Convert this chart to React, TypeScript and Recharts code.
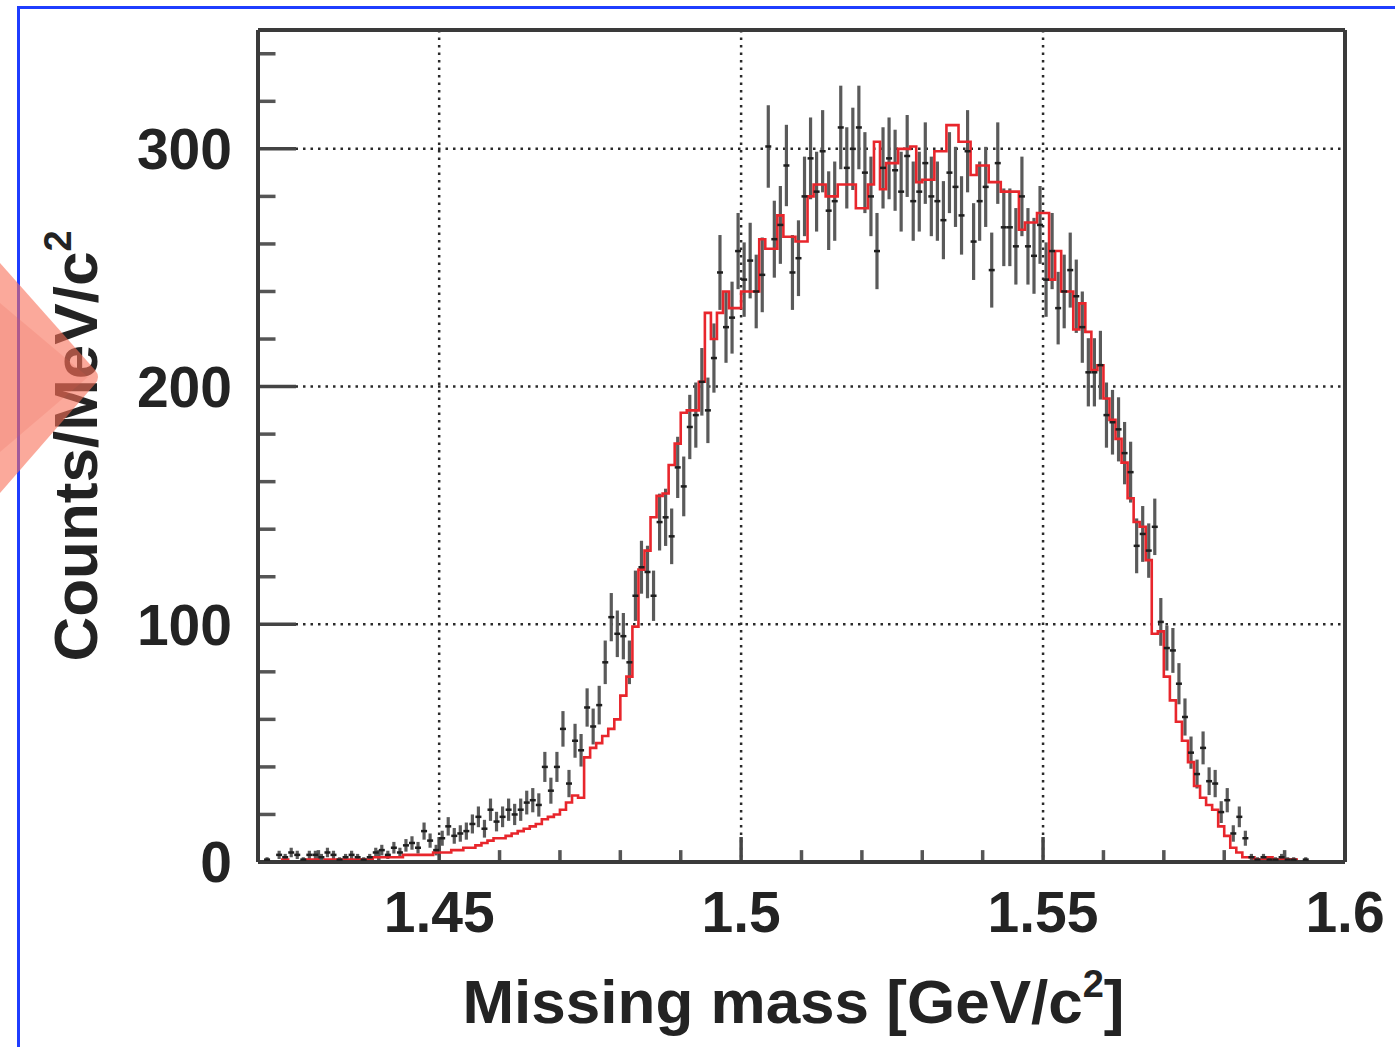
import React from 'react';
import {
  ComposedChart,
  Line,
  Scatter,
  ErrorBar,
  XAxis,
  YAxis,
  CartesianGrid,
  ReferenceLine,
  Label,
} from 'recharts';

// ---- axis ranges / binning ----
const X_MIN = 1.42;
const X_MAX = 1.6;
const BIN_WIDTH = 0.001; // 1 MeV bins
const Y_MAX = 350;

// ---- tick values ----
const xMajorTicks = [1.45, 1.5, 1.55, 1.6];
const xMinorTicks = [1.43, 1.44, 1.46, 1.47, 1.48, 1.49, 1.51, 1.52, 1.53, 1.54, 1.56, 1.57, 1.58, 1.59];
const yMajorTicks = [0, 100, 200, 300];
const yMinorTicks = [20, 40, 60, 80, 120, 140, 160, 180, 220, 240, 260, 280, 320, 340];

// ---- measured data (counts per 1 MeV bin, from 1.420 GeV) ----
const dataCounts = [
  0, 1, 0, 3, 2, 4, 3, 1, 3, 3,
  2, 4, 3, 1, 2, 3, 2, 1, 2, 4,
  5, 3, 6, 4, 7, 8, 6, 13, 9, 5,
  10, 15, 11, 12, 13, 16, 19, 14, 22, 17,
  19, 22, 20, 22, 25, 26, 24, 40, 30, 40,
  56, 33, 51, 47, 65, 57, 66, 84, 103, 96,
  95, 84, 112, 124, 122, 112, 143, 145, 137, 166,
  158, 183, 188, 202, 190, 212, 248, 225, 229, 257,
  245, 253, 240, 247, 301, 262, 268, 293, 248, 254,
  280, 296, 282, 299, 274, 278, 309, 292, 300, 309,
  290, 280, 257, 292, 296, 291, 282, 297, 278, 282,
  294, 280, 278, 270, 290, 284, 272, 299, 261, 278,
  284, 249, 294, 267, 267, 259, 280, 259, 255, 268,
  245, 257, 233, 240, 249, 238, 225, 206, 206, 209,
  188, 185, 182, 172, 164, 133, 138, 131, 141, 101,
  90, 89, 75, 61, 46, 37, 48, 34, 33, 21,
  26, 12, 19, 10, 2, 1, 2, 1, 1, 2,
  1, 1, 0, 1, 0, 0, 0, 0, 0, 0,
];

// ---- simulation histogram (red) ----
const mcCounts = [
  0, 0, 0, 0, 1, 0, 0, 0, 1, 1,
  0, 1, 1, 1, 1, 1, 1, 1, 1, 2,
  2, 2, 2, 2, 3, 3, 3, 3, 3, 4,
  4, 4, 5, 5, 6, 6, 7, 8, 9, 10,
  10, 11, 12, 13, 14, 15, 16, 18, 19, 20,
  22, 25, 28, 27, 44, 48, 50, 53, 56, 60,
  70, 78, 99, 123, 131, 145, 154, 155, 167, 176,
  189, 190, 190, 202, 231, 220, 231, 240, 233, 233,
  240, 240, 240, 262, 258, 258, 272, 263, 263, 261,
  261, 280, 285, 285, 280, 280, 285, 285, 285, 275,
  275, 285, 303, 283, 294, 294, 300, 300, 301, 286,
  287, 287, 299, 299, 310, 310, 303, 303, 289, 293,
  293, 286, 286, 282, 282, 282, 266, 269, 269, 273,
  273, 245, 257, 240, 240, 224, 235, 223, 207, 209,
  195, 186, 178, 168, 153, 143, 141, 127, 96, 97,
  78, 68, 59, 51, 42, 32, 27, 24, 22, 15,
  11, 6, 4, 2, 2, 1, 1, 2, 1, 1,
  1, 1, 0, 0, 0, 0, 0, 0, 0, 0,
];

// ---- tables built from the arrays above ----
const dataPoints = dataCounts
  .map((c, i) => ({ x: X_MIN + (i + 0.5) * BIN_WIDTH, y: c, err: Math.sqrt(c) }))
  .filter((p) => p.y > 0);

const mcSteps = mcCounts.map((c, i) => ({ x: X_MIN + i * BIN_WIDTH, y: c }));
mcSteps.push({ x: X_MAX, y: mcCounts[mcCounts.length - 1] });

const FONT = "'Liberation Sans', Arial, Helvetica, sans-serif";
const TEXT = '#232323';
const FRAME = '#3a3a3a';

const tickStyle = { fill: TEXT, fontSize: 57, fontWeight: 700, fontFamily: FONT };

const XTitle = (props: any) => {
  const vb = props.viewBox || {};
  const cx = vb.x + vb.width / 2 - 8;
  const base = vb.y + 161;
  return (
    <text x={cx} y={base} textAnchor="middle" fill={TEXT} fontFamily={FONT} fontWeight={700} fontSize={62}>
      Missing mass [GeV/c
      <tspan dy={-26} fontSize={38}>2</tspan>
      <tspan dy={26}>]</tspan>
    </text>
  );
};

const YTitle = (props: any) => {
  const vb = props.viewBox || {};
  const x = 97;
  const cy = vb.y + vb.height / 2;
  return (
    <text
      x={x}
      y={cy}
      transform={`rotate(-90, ${x}, ${cy})`}
      textAnchor="middle"
      fill={TEXT}
      fontFamily={FONT}
      fontWeight={700}
      fontSize={62}
    >
      Counts/MeV/c
      <tspan dy={-26} fontSize={38}>2</tspan>
    </text>
  );
};

const DataMarker = (p: any) => {
  if (p.cx == null || p.cy == null) return <g />;
  return <line x1={p.cx - 3} x2={p.cx + 3} y1={p.cy} y2={p.cy} stroke="#1e1e1e" strokeWidth={2.5} />;
};

export default function App() {
  return (
    <div style={{ position: 'absolute', left: 0, top: 0, width: 1395, height: 1047, background: '#ffffff', overflow: 'hidden' }}>
      <div
        style={{
          position: 'absolute',
          left: 17,
          top: 6,
          right: -10,
          bottom: -10,
          borderLeft: '3px solid #1f3dff',
          borderTop: '3px solid #1f3dff',
        }}
      />
      <div style={{ position: 'absolute', left: 0, top: 0 }}>
        <ComposedChart width={1395} height={1047} margin={{ top: 30, right: 50, bottom: 0, left: 0 }}>
          <CartesianGrid
            stroke="#2a2a2a"
            strokeWidth={2.5}
            strokeDasharray="2.5 5"
            horizontalValues={[100, 200, 300]}
            verticalValues={[1.45, 1.5, 1.55]}
          />
          <XAxis
            type="number"
            dataKey="x"
            domain={[X_MIN, X_MAX]}
            allowDataOverflow
            ticks={xMajorTicks}
            interval={0}
            tickFormatter={(v: number) => String(+v.toFixed(2))}
            height={185}
            axisLine={false}
            tickLine={false}
            tickSize={6}
            tickMargin={24}
            tick={tickStyle}
          >
            <Label content={XTitle} />
          </XAxis>
          <YAxis
            type="number"
            dataKey="y"
            domain={[0, Y_MAX]}
            allowDataOverflow
            ticks={yMajorTicks}
            interval={0}
            width={258}
            axisLine={false}
            tickLine={false}
            tickSize={6}
            tickMargin={20}
            tick={tickStyle}
          >
            <Label content={YTitle} />
          </YAxis>

          {yMinorTicks.map((v) => (
            <ReferenceLine
              key={`ym${v}`}
              segment={[{ x: X_MIN, y: v }, { x: X_MIN + 0.0029, y: v }]}
              stroke="#555"
              strokeWidth={3.5}
            />
          ))}
          {yMajorTicks.filter((v) => v > 0).map((v) => (
            <ReferenceLine
              key={`yM${v}`}
              segment={[{ x: X_MIN, y: v }, { x: X_MIN + 0.0063, y: v }]}
              stroke="#444"
              strokeWidth={3.5}
            />
          ))}
          {xMinorTicks.map((v) => (
            <ReferenceLine
              key={`xm${v}`}
              segment={[{ x: v, y: 0 }, { x: v, y: 5 }]}
              stroke="#555"
              strokeWidth={3.5}
            />
          ))}
          {xMajorTicks.filter((v) => v < X_MAX).map((v) => (
            <ReferenceLine
              key={`xM${v}`}
              segment={[{ x: v, y: 0 }, { x: v, y: 10.5 }]}
              stroke="#444"
              strokeWidth={3.5}
            />
          ))}

          <Scatter data={dataPoints} dataKey="y" shape={DataMarker} isAnimationActive={false}>
            <ErrorBar dataKey="err" direction="y" width={0} stroke="#5a5a5a" strokeWidth={3.2} />
          </Scatter>

          <Line
            data={mcSteps}
            dataKey="y"
            type="stepAfter"
            stroke="#e8262c"
            strokeWidth={2.6}
            dot={false}
            activeDot={false}
            isAnimationActive={false}
          />

          <ReferenceLine x={X_MIN} stroke={FRAME} strokeWidth={4} />
          <ReferenceLine x={X_MAX} stroke={FRAME} strokeWidth={4} />
          <ReferenceLine y={0} stroke={FRAME} strokeWidth={4} />
          <ReferenceLine y={Y_MAX} stroke={FRAME} strokeWidth={4} />
        </ComposedChart>
      </div>
      <svg
        width={130}
        height={1047}
        style={{ position: 'absolute', left: 0, top: 0, pointerEvents: 'none' }}
      >
        <path d="M0,263 L95,370 Q101,377 95,384 L0,493 Z" fill="rgba(248,112,88,0.6)" />
        <path d="M0,303 L88,377 L0,452 Z" fill="rgba(235,95,75,0.18)" />
      </svg>
    </div>
  );
}
